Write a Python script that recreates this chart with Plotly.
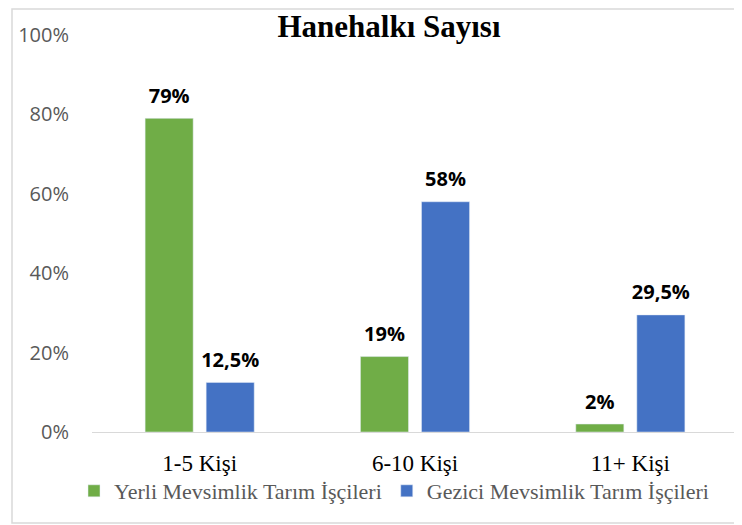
import plotly.graph_objects as go

# Chart data
categories = ["1-5 Kişi", "6-10 Kişi", "11+ Kişi"]
yerli = [79, 19, 2]
gezici = [12.5, 58, 29.5]
series_names = ["Yerli Mevsimlik Tarım İşçileri", "Gezici Mevsimlik Tarım İşçileri"]
y_ticks = [0, 20, 40, 60, 80, 100]
y_tick_labels = [f"{t}%" for t in y_ticks]

# page body has an 8px margin, so the figure is a bit smaller than the window
W, H = 734, 517


def pct_label(v):
    # Turkish decimal comma
    return f"{v:g}".replace(".", ",") + "%"


fig = go.Figure()
for name, vals, color in [(series_names[0], yerli, "#70AD47"),
                          (series_names[1], gezici, "#4472C4")]:
    fig.add_trace(go.Bar(
        x=categories,
        y=vals,
        name=name,
        marker_color=color,
        text=[pct_label(v) for v in vals],
        # small blank second line lifts the label a bit above the bar
        texttemplate="<span style='font-size:20px'>%{text}</span><br> ",
        textposition="outside",
        textfont=dict(family="Open Sans", size=8, color="black", weight="bold"),
        constraintext="none",
        cliponaxis=False,
    ))

plot_w = W - 84 - 4
plot_h = H - 27 - 93

fig.update_layout(
    width=W,
    height=H,
    paper_bgcolor="white",
    plot_bgcolor="white",
    margin=dict(l=84, r=4, t=27, b=93),
    barmode="group",
    bargap=0.433,
    bargroupgap=0.213,
    title=dict(
        text="<b>Hanehalkı Sayısı</b>",
        font=dict(family="Liberation Serif", size=31, color="black"),
        xref="container", x=381 / W, xanchor="center",
        yref="container", y=1 - 18 / H, yanchor="middle",
    ),
    showlegend=True,
    legend=dict(
        orientation="h",
        xref="container", x=386 / W, xanchor="center",
        yref="container", y=1 - 483 / H, yanchor="middle",
        font=dict(family="Liberation Serif", size=22, color="#595959"),
        bgcolor="rgba(0,0,0,0)",
        itemwidth=30,
        traceorder="normal",
    ),
    shapes=[dict(
        type="rect", xref="paper", yref="paper",
        x0=(4 - 84) / plot_w, x1=(732 - 84) / plot_w,
        y0=(424 - 515) / plot_h, y1=(424 - 1) / plot_h,
        line=dict(color="#D9D9D9", width=1.5),
        fillcolor="rgba(0,0,0,0)",
    )],
)

fig.update_xaxes(
    showline=True, linecolor="#D9D9D9", linewidth=1,
    showgrid=False, ticks="", automargin=False,
    tickfont=dict(family="Liberation Serif", size=23, color="black"),
    ticklabelstandoff=10,
)
fig.update_yaxes(
    range=[0, 100],
    tickvals=y_ticks,
    ticktext=y_tick_labels,
    showgrid=False, zeroline=False, showline=False, automargin=False,
    tickfont=dict(family="Open Sans", size=20, color="#595959"),
    ticklabelstandoff=22,
)

fig.write_html("out.html")
